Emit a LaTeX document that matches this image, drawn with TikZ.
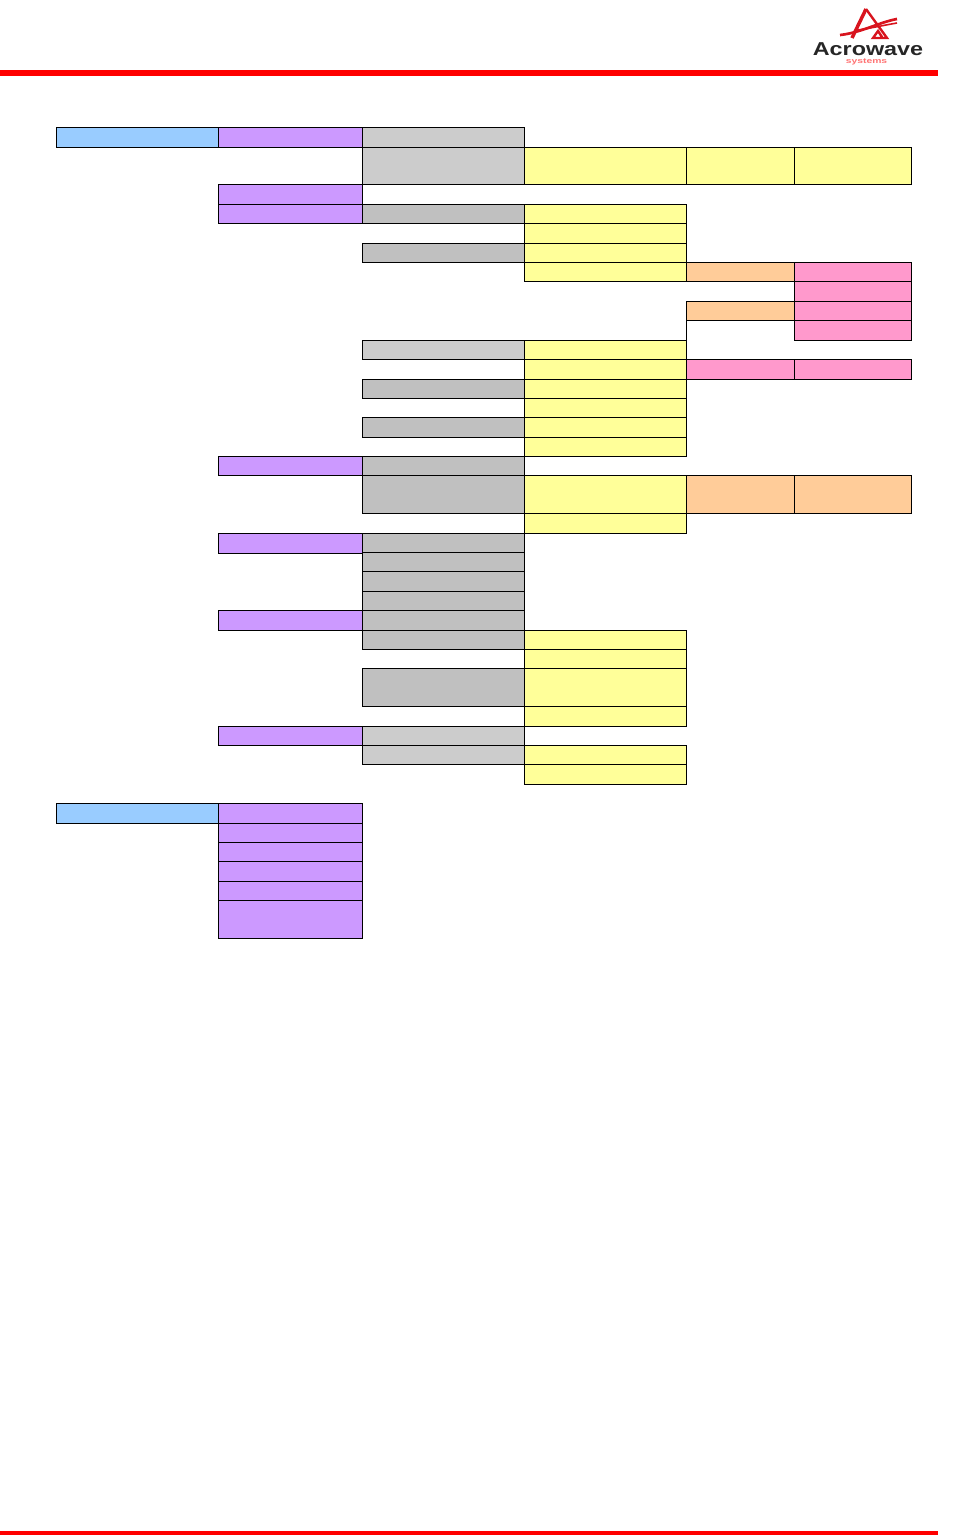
\documentclass[tikz,border=0pt]{standalone}
\usepackage{fontspec}
\setmainfont{Liberation Sans}
\usepackage{xcolor}
\definecolor{skyblue}{HTML}{99CCFF}
\definecolor{lavender}{HTML}{CC99FF}
\definecolor{lightgray}{HTML}{CCCCCC}
\definecolor{midgray}{HTML}{C0C0C0}
\definecolor{paleyellow}{HTML}{FFFF99}
\definecolor{peach}{HTML}{FFCC99}
\definecolor{rose}{HTML}{FF99CC}
\definecolor{logored}{HTML}{D8141E}

\begin{document}
\begin{tikzpicture}[x=0.75pt, y=-0.75pt,
    cell/.style={draw, line width=0.75pt, anchor=north west, inner sep=0pt, outer sep=0pt},
    ht/.style={minimum height=#1*0.75pt},
    wa/.style={cell, minimum width=162*0.75pt},
    wb/.style={cell, minimum width=144*0.75pt},
    wc/.style={cell, minimum width=162*0.75pt},
    wd/.style={cell, minimum width=162*0.75pt},
    we/.style={cell, minimum width=108*0.75pt},
    wf/.style={cell, minimum width=117*0.75pt},
    rule/.style={fill=red, draw=none, inner sep=0pt, outer sep=0pt, anchor=north west}]
\useasboundingbox (0,0) rectangle (958,1535);

% header and footer
\node[rule, minimum width=938*0.75pt, minimum height=6*0.75pt] (topbar) at (0,70) {};
\node[rule, minimum width=938*0.75pt, minimum height=4*0.75pt] (bottombar) at (0,1531) {};

% logo
\draw[logored, line width=2.6pt] (852,38) -- (866,9);
\draw[logored, line width=1.8pt] (866,9) -- (887,38) -- (873,38) -- (878,31) -- (882,37);
\draw[logored, line width=2pt] (840,35) .. controls (860,33) and (880,22) .. (897,19);
\draw[logored, line width=1.2pt] (858,30) .. controls (872,28) and (885,25) .. (897,23);
\node[font=\bfseries, xscale=1.75, yscale=1.4, inner sep=0pt, text=black!85] (logoname) at (868,49.5) {Acrowave};
\node[font=\tiny\bfseries, xscale=1.55, yscale=1.1, inner sep=0pt, text=red!55] (logosub) at (866.5,62) {systems};

% first block
\node[wa, ht=20, fill=skyblue] (root1) at (56,127.5) {};
\node[wb, ht=20, fill=lavender] (p1) at (218,127.5) {};
\node[wb, ht=20, fill=lavender] (p2) at (218,184) {};
\node[wb, ht=19, fill=lavender] (p3) at (218,204) {};
\node[wb, ht=19, fill=lavender] (p4) at (218,456) {};
\node[wb, ht=20, fill=lavender] (p5) at (218,533) {};
\node[wb, ht=20, fill=lavender] (p6) at (218,610) {};
\node[wb, ht=19, fill=lavender] (p7) at (218,726) {};

\node[wc, ht=20, fill=lightgray] (g1) at (362,127.5) {};
\node[wc, ht=37, fill=lightgray] (g2) at (362,147) {};
\node[wc, ht=19, fill=midgray] (g3) at (362,204) {};
\node[wc, ht=19, fill=midgray] (g4) at (362,243) {};
\node[wc, ht=19, fill=lightgray] (g5) at (362,340) {};
\node[wc, ht=19, fill=midgray] (g6) at (362,379) {};
\node[wc, ht=20, fill=midgray] (g7) at (362,417) {};
\node[wc, ht=19, fill=midgray] (g8) at (362,456) {};
\node[wc, ht=38, fill=midgray] (g9) at (362,475) {};
\node[wc, ht=19, fill=midgray] (g10) at (362,533) {};
\node[wc, ht=19, fill=midgray] (g11) at (362,552) {};
\node[wc, ht=20, fill=midgray] (g12) at (362,571) {};
\node[wc, ht=19, fill=midgray] (g13) at (362,591) {};
\node[wc, ht=20, fill=midgray] (g14) at (362,610) {};
\node[wc, ht=19, fill=midgray] (g15) at (362,630) {};
\node[wc, ht=38, fill=midgray] (g16) at (362,668) {};
\node[wc, ht=19, fill=lightgray] (g17) at (362,726) {};
\node[wc, ht=19, fill=lightgray] (g18) at (362,745) {};

\node[wd, ht=37, fill=paleyellow] (y1) at (524,147) {};
\node[wd, ht=19, fill=paleyellow] (y2) at (524,204) {};
\node[wd, ht=20, fill=paleyellow] (y3) at (524,223) {};
\node[wd, ht=19, fill=paleyellow] (y4) at (524,243) {};
\node[wd, ht=19, fill=paleyellow] (y5) at (524,262) {};
\node[wd, ht=19, fill=paleyellow] (y6) at (524,340) {};
\node[wd, ht=20, fill=paleyellow] (y7) at (524,359) {};
\node[wd, ht=19, fill=paleyellow] (y8) at (524,379) {};
\node[wd, ht=19, fill=paleyellow] (y9) at (524,398) {};
\node[wd, ht=20, fill=paleyellow] (y10) at (524,417) {};
\node[wd, ht=19, fill=paleyellow] (y11) at (524,437) {};
\node[wd, ht=38, fill=paleyellow] (y12) at (524,475) {};
\node[wd, ht=20, fill=paleyellow] (y13) at (524,513) {};
\node[wd, ht=19, fill=paleyellow] (y14) at (524,630) {};
\node[wd, ht=19, fill=paleyellow] (y15) at (524,649) {};
\node[wd, ht=38, fill=paleyellow] (y16) at (524,668) {};
\node[wd, ht=20, fill=paleyellow] (y17) at (524,706) {};
\node[wd, ht=19, fill=paleyellow] (y18) at (524,745) {};
\node[wd, ht=20, fill=paleyellow] (y19) at (524,764) {};

\node[we, ht=37, fill=paleyellow] (e1) at (686,147) {};
\node[we, ht=19, fill=peach] (e2) at (686,262) {};
\node[we, ht=19, fill=peach] (e3) at (686,301) {};
\node[we, ht=20, fill=rose] (e4) at (686,359) {};
\node[we, ht=38, fill=peach] (e5) at (686,475) {};

\node[wf, ht=37, fill=paleyellow] (f1) at (794,147) {};
\node[wf, ht=19, fill=rose] (f2) at (794,262) {};
\node[wf, ht=20, fill=rose] (f3) at (794,281) {};
\node[wf, ht=19, fill=rose] (f4) at (794,301) {};
\node[wf, ht=20, fill=rose] (f5) at (794,320) {};
\node[wf, ht=20, fill=rose] (f6) at (794,359) {};
\node[wf, ht=38, fill=peach] (f7) at (794,475) {};

\draw[line width=0.75pt] (e3.south west) -- (y6.north east);

% second block
\node[wa, ht=20, fill=skyblue] (root2) at (56,803) {};
\node[wb, ht=20, fill=lavender] (q1) at (218,803) {};
\node[wb, ht=19, fill=lavender] (q2) at (218,823) {};
\node[wb, ht=19, fill=lavender] (q3) at (218,842) {};
\node[wb, ht=20, fill=lavender] (q4) at (218,861) {};
\node[wb, ht=19, fill=lavender] (q5) at (218,881) {};
\node[wb, ht=38, fill=lavender] (q6) at (218,900) {};
\end{tikzpicture}
\end{document}
